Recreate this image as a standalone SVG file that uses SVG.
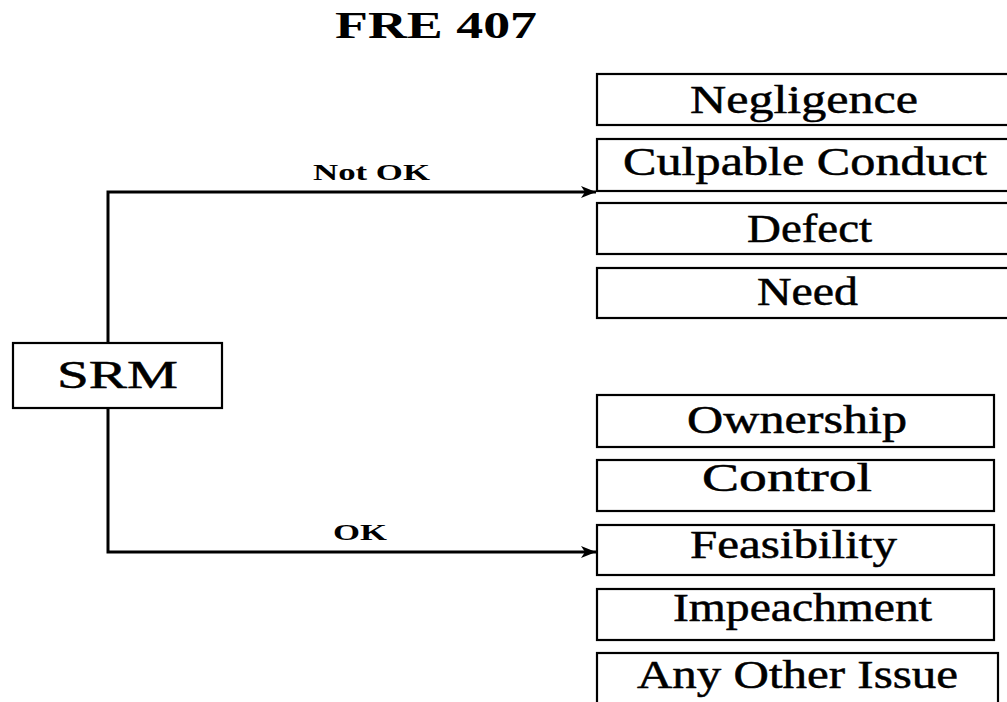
<svg xmlns="http://www.w3.org/2000/svg" width="1007" height="702" viewBox="0 0 1007 702">
<style>
.box{fill:#fff;stroke:#000;stroke-width:2.2}
.lbl{font-family:"Liberation Serif","Times New Roman",serif;font-size:39px;fill:#000;stroke:#000;stroke-width:0.5}
.edge{font-family:"Liberation Serif","Times New Roman",serif;font-size:24px;fill:#000;font-weight:bold}
.title{font-family:"Liberation Serif","Times New Roman",serif;font-size:38px;font-weight:bold;fill:#000}
.conn{fill:none;stroke:#000;stroke-width:3}
</style>
<defs>
<marker id="arr" markerWidth="16" markerHeight="12" refX="15" refY="6" orient="auto" markerUnits="userSpaceOnUse">
<path d="M0,0 L15,6 L0,12 L4,6 Z" fill="#000"/>
</marker>
</defs>
<rect width="1007" height="702" fill="#fff"/>
<text class="title" x="335" y="38" textLength="202" lengthAdjust="spacingAndGlyphs">FRE 407</text>
<g id="connectors">
<path class="conn" d="M108,343 V192 H596" marker-end="url(#arr)"/>
<path class="conn" d="M108,408 V552 H596" marker-end="url(#arr)"/>
<text class="edge" x="313" y="180" textLength="117" lengthAdjust="spacingAndGlyphs">Not OK</text>
<text class="edge" x="333" y="540" textLength="54" lengthAdjust="spacingAndGlyphs">OK</text>
</g>
<g id="srm"><rect class="box" x="13" y="343" width="209" height="65"/><text class="lbl" x="57" y="388" textLength="121" lengthAdjust="spacingAndGlyphs">SRM</text></g>
<g id="negligence"><rect class="box" x="597" y="74" width="420" height="51"/><text class="lbl" x="690" y="113" textLength="228" lengthAdjust="spacingAndGlyphs">Negligence</text></g>
<g id="culpable"><rect class="box" x="597" y="139" width="420" height="52"/><text class="lbl" x="623" y="175" textLength="364" lengthAdjust="spacingAndGlyphs">Culpable Conduct</text></g>
<g id="defect"><rect class="box" x="597" y="203" width="420" height="51"/><text class="lbl" x="747" y="242" textLength="125" lengthAdjust="spacingAndGlyphs">Defect</text></g>
<g id="need"><rect class="box" x="597" y="268" width="420" height="50"/><text class="lbl" x="757" y="305" textLength="101" lengthAdjust="spacingAndGlyphs">Need</text></g>
<g id="ownership"><rect class="box" x="597" y="395" width="397" height="52"/><text class="lbl" x="687" y="433" textLength="220" lengthAdjust="spacingAndGlyphs">Ownership</text></g>
<g id="control"><rect class="box" x="597" y="460" width="397" height="51"/><text class="lbl" x="702" y="491" textLength="170" lengthAdjust="spacingAndGlyphs">Control</text></g>
<g id="feasibility"><rect class="box" x="597" y="525" width="397" height="50"/><text class="lbl" x="690" y="558" textLength="207" lengthAdjust="spacingAndGlyphs">Feasibility</text></g>
<g id="impeachment"><rect class="box" x="597" y="589" width="397" height="51"/><text class="lbl" x="673" y="621" textLength="259" lengthAdjust="spacingAndGlyphs">Impeachment</text></g>
<g id="anyother"><rect class="box" x="597" y="653" width="401" height="60"/><text class="lbl" x="637" y="688" textLength="321" lengthAdjust="spacingAndGlyphs">Any Other Issue</text></g>
</svg>
